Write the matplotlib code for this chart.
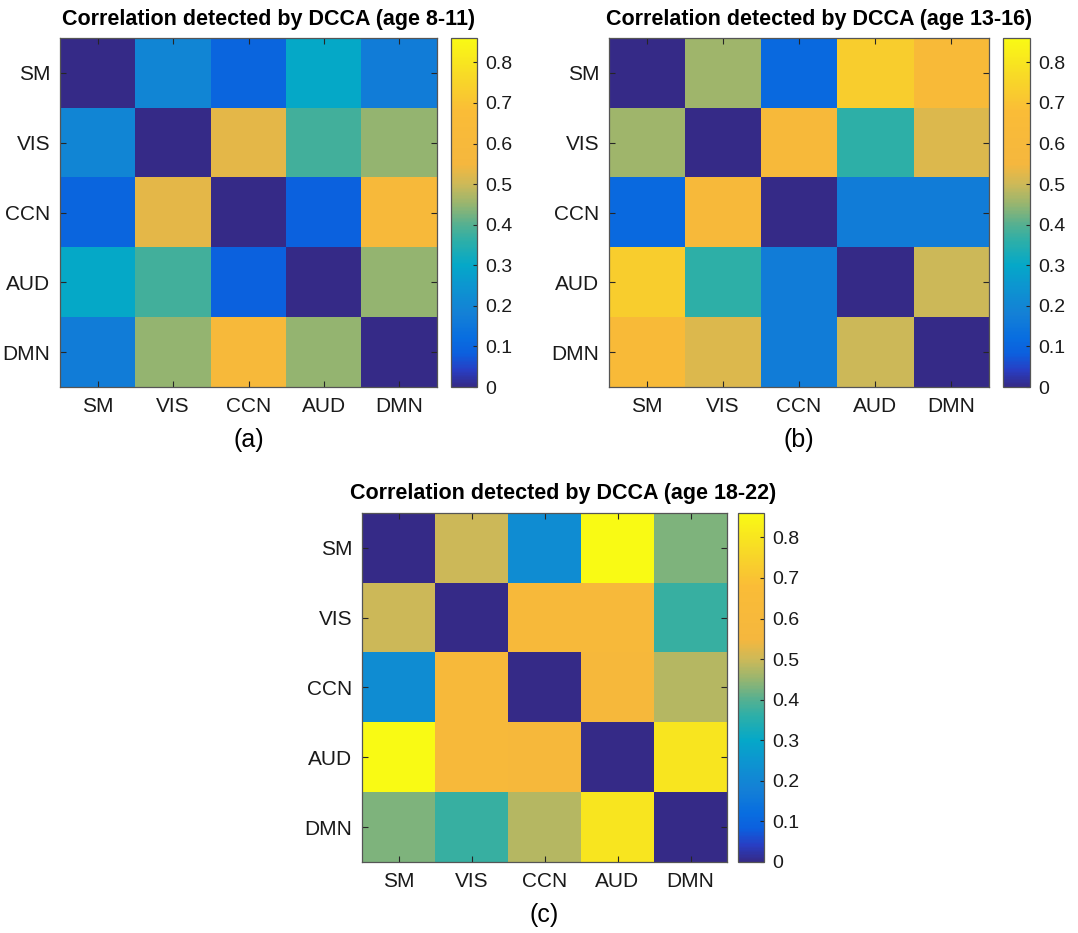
import numpy as np
import matplotlib
matplotlib.use("Agg")
import matplotlib.pyplot as plt
from matplotlib.colors import LinearSegmentedColormap

plt.rcParams['font.family'] = ['Liberation Sans', 'DejaVu Sans']

networks = ["SM", "VIS", "CCN", "AUD", "DMN"]

# correlation matrices (rows/cols in `networks` order)
corr_8_11 = [
    [0.00, 0.20, 0.10, 0.30, 0.17],
    [0.20, 0.00, 0.53, 0.38, 0.45],
    [0.10, 0.53, 0.00, 0.09, 0.61],
    [0.30, 0.38, 0.09, 0.00, 0.45],
    [0.17, 0.45, 0.61, 0.45, 0.00],
]
corr_13_16 = [
    [0.00, 0.46, 0.11, 0.73, 0.65],
    [0.46, 0.00, 0.62, 0.36, 0.52],
    [0.11, 0.62, 0.00, 0.17, 0.17],
    [0.73, 0.36, 0.17, 0.00, 0.50],
    [0.65, 0.52, 0.17, 0.50, 0.00],
]
corr_18_22 = [
    [0.00, 0.50, 0.22, 0.86, 0.43],
    [0.50, 0.00, 0.62, 0.62, 0.37],
    [0.22, 0.62, 0.00, 0.60, 0.48],
    [0.86, 0.62, 0.60, 0.00, 0.80],
    [0.43, 0.37, 0.48, 0.80, 0.00],
]
titles = ["Correlation detected by DCCA (age 8-11)",
          "Correlation detected by DCCA (age 13-16)",
          "Correlation detected by DCCA (age 18-22)"]
panel_labels = ["(a)", "(b)", "(c)"]
cbar_ticks = [0, 0.1, 0.2, 0.3, 0.4, 0.5, 0.6, 0.7, 0.8]

VMAX = 0.86

# parula-like map, nodes sampled from the colorbar (value, rgb)
nodes = [
    (0.00, (53, 42, 135)),
    (0.04, (40, 62, 195)),
    (0.08, (12, 95, 222)),
    (0.12, (8, 110, 224)),
    (0.18, (20, 128, 214)),
    (0.25, (12, 150, 208)),
    (0.30, (5, 168, 200)),
    (0.36, (45, 175, 168)),
    (0.40, (85, 176, 145)),
    (0.45, (150, 181, 112)),
    (0.50, (205, 185, 88)),
    (0.55, (245, 183, 62)),
    (0.68, (250, 188, 55)),
    (0.76, (248, 215, 40)),
    (0.86, (249, 250, 20)),
]
parula = LinearSegmentedColormap.from_list(
    "parula_like", [(v / VMAX, tuple(c / 255 for c in rgb)) for v, rgb in nodes], N=256)

fig = plt.figure(figsize=(10.78, 9.33), dpi=100)

W, H = 1078, 933
# pixel boxes: (left, top, right, bottom) for heatmap and colorbar
boxes = [
    ((60, 38, 437, 387), (451, 38, 477, 387)),
    ((609, 38, 989, 387), (1003, 38, 1030, 387)),
    ((362, 513, 727, 862), (738, 513, 764, 862)),
]

def frac(box):
    l, t, r, b = box
    return [l / W, 1 - b / H, (r - l) / W, (b - t) / H]

for data, title, lab, (hbox, cbox) in zip([corr_8_11, corr_13_16, corr_18_22], titles, panel_labels, boxes):
    ax = fig.add_axes(frac(hbox))
    im = ax.imshow(np.array(data), cmap=parula, vmin=0, vmax=VMAX, aspect='auto')
    ax.set_xticks(range(len(networks)))
    ax.set_yticks(range(len(networks)))
    ax.set_xticklabels(networks, fontsize=15)
    ax.set_yticklabels(networks, fontsize=15)
    ax.tick_params(direction='in', top=True, right=True, length=4, width=0.8,
                   color='#262626', labelcolor='#1a1a1a', pad=7)
    for s in ax.spines.values():
        s.set_color('#555555')
        s.set_linewidth(0.9)
    ax.set_xlabel(lab, fontsize=18, labelpad=9)

    # title centred over heatmap + colorbar, as in the original
    tx = (hbox[0] + cbox[2]) / 2 / W
    ty = 1 - (hbox[1] - 19) / H
    fig.text(tx, ty, title, fontsize=15.5, fontweight='bold', ha='center', va='center')

    cax = fig.add_axes(frac(cbox))
    cb = fig.colorbar(im, cax=cax, ticks=cbar_ticks)
    cb.ax.set_yticklabels(["0" if t == 0 else f"{t:g}" for t in cbar_ticks], fontsize=14)
    cb.ax.tick_params(direction='in', length=3, width=0.8, color='#262626',
                      labelcolor='#1a1a1a', pad=6)
    cb.outline.set_edgecolor('#555555')
    cb.outline.set_linewidth(0.9)

fig.savefig("out.png", dpi=100)
